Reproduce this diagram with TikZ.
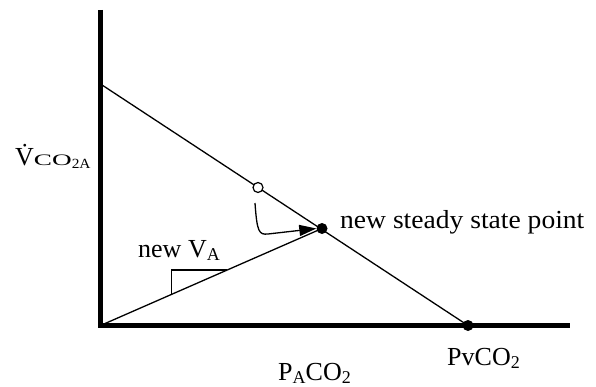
\documentclass[tikz,border=0pt]{standalone}
\usepackage{fontspec}
\setmainfont{Liberation Serif}
\usepackage{graphicx}
\usetikzlibrary{calc,arrows.meta}
\newcommand{\mysub}[1]{\raisebox{-3.5pt}{\fontsize{18}{18}\selectfont #1}}
\tikzset{
  axis/.style={line width=4.6pt},
  thin line/.style={line width=1.3pt},
  dotpt/.style={circle,fill=black,inner sep=0pt,minimum size=11pt},
  openpt/.style={circle,draw=black,fill=white,line width=1.2pt,inner sep=0pt,minimum size=10pt},
  lbl/.style={anchor=base west,inner sep=0pt,font=\fontsize{26}{30}\selectfont},
}
\begin{document}
\begin{tikzpicture}[x=1pt,y=-1pt]
\useasboundingbox (0,0) rectangle (596,387);
% axes
\coordinate (top) at (100.5,10);
\coordinate (o) at (100.5,325.5);
\coordinate (xend) at (570,325.5);
\coordinate (yint) at (100.5,84);
\draw[axis] (top) -- ($(o)+(0,2.3)$);
\draw[axis] ($(o)+(-2.3,0)$) -- (xend);
% points
\node[dotpt] (pv) at (468,325.5) {};
\node[dotpt] (ss) at (322,228.5) {};
% lines
\draw[thin line] (yint) -- (pv.center);
\draw[thin line] (o) -- (ss.center);
\node[openpt] (old) at (258,187.5) {};
% slope mark
\coordinate (t1) at ($(o)!0.321!(ss.center)$);
\coordinate (t2) at ($(o)!0.573!(ss.center)$);
\draw[thin line] (t1) |- (t2);
% curved arrow
\coordinate (a0) at (255,203);
\coordinate (a1) at (268,234);
\draw[thin line,-{Triangle[length=17pt,width=11pt]}] (a0) .. controls (257,232) and (259,235) .. (a1) -- (ss.west);
% labels
\node[lbl] (vco) at (15,166) {\.{V}{\fontsize{16}{16}\selectfont\scalebox{1.7}[1]{CO}}\raisebox{-3pt}{\fontsize{14}{14}\selectfont\scalebox{1.1}[1]{2A}}};
\node[lbl] (sslbl) at (340,228) {\scalebox{1.06}[1]{new steady state point}};
\node[lbl] (va) at (138,257) {new V\mysub{A}};
\node[lbl] (pvlbl) at (447,365) {PvCO\mysub{2}};
\node[lbl] (palbl) at (278,380) {P\mysub{A}CO\mysub{2}};
\end{tikzpicture}
\end{document}
